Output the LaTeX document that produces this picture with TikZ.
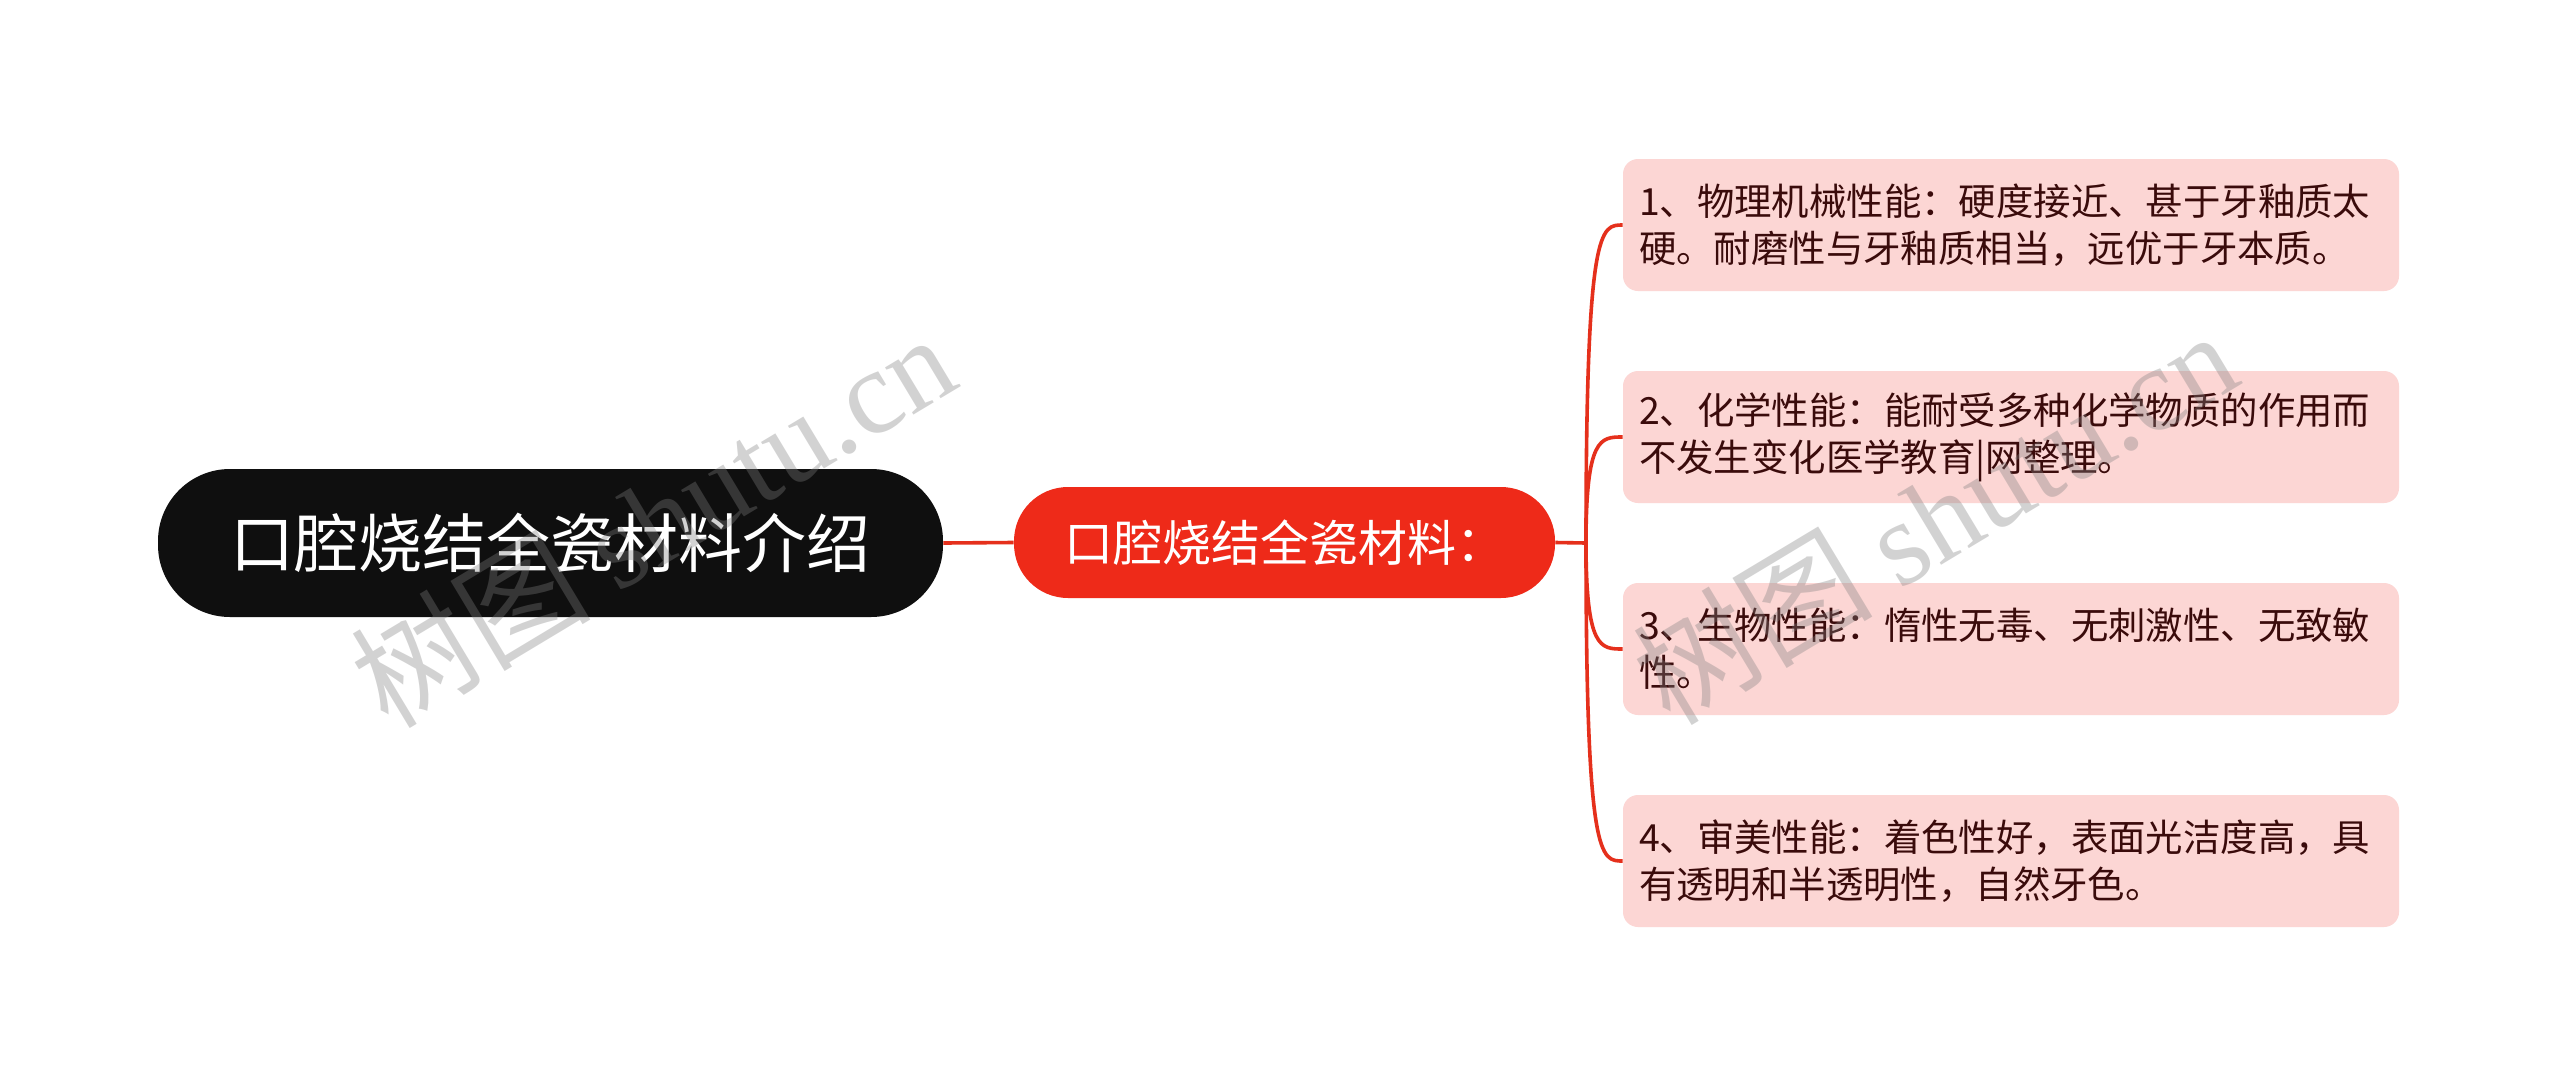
\documentclass[tikz,border=0pt]{standalone}
\usepackage{fontspec}
\setmainfont{Noto Sans CJK SC}
\newfontfamily\wmcjk{Noto Sans CJK SC}
\newfontfamily\wmlat{Liberation Serif}
\usetikzlibrary{calc}
\definecolor{rootbg}{HTML}{0F0F0F}
\definecolor{midbg}{HTML}{EE2A19}
\definecolor{leafbg}{HTML}{FCD6D4}
\definecolor{leaftx}{HTML}{3A0B0B}
\definecolor{linec}{HTML}{E5301C}
\definecolor{wm}{HTML}{808080}
\tikzset{
  rootbox/.style={fill=rootbg, text=white, rounded corners=36pt, minimum width=392.5pt, minimum height=74pt, inner sep=0pt, font=\fontsize{32pt}{38pt}\selectfont},
  midbox/.style={fill=midbg, text=white, rounded corners=27pt, minimum width=270.5pt, minimum height=55.5pt, inner sep=0pt, font=\fontsize{24.5pt}{29pt}\selectfont},
  leafbox/.style={fill=leafbg, text=leaftx, rounded corners=7.5pt, minimum width=388pt, minimum height=66pt, text width=372pt, inner xsep=8pt, inner ysep=0pt, align=left, font=\fontsize{18.7pt}{23.5pt}\selectfont},
  link/.style={draw=linec, line width=1.8pt},
  wmark/.style={text=wm, opacity=0.35, rotate=31, inner sep=0pt}
}
\begin{document}
\begin{tikzpicture}[x=0.5pt,y=-0.5pt]
\useasboundingbox (0,0) rectangle (2560,1087);
\fill[white] (0,0) rectangle (2560,1087);

\node[rootbox] (root) at (550.5,543) {口腔烧结全瓷材料介绍};
\node[midbox] (mid) at (1284.5,542.5) {口腔烧结全瓷材料：};

\node[leafbox] (l1) at (2011,225) {1、物理机械性能：硬度接近、甚于牙釉质太\\硬。耐磨性与牙釉质相当，远优于牙本质。};
\node[leafbox] (l2) at (2011,437) {2、化学性能：能耐受多种化学物质的作用而\\不发生变化医学教育|网整理。};
\node[leafbox] (l3) at (2011,649) {3、生物性能：惰性无毒、无刺激性、无致敏\\性。};
\node[leafbox] (l4) at (2011,861) {4、审美性能：着色性好，表面光洁度高，具\\有透明和半透明性，自然牙色。};

\coordinate (j) at (1586,543);
\draw[link] (root.east) -- (mid.west);
\draw[link] (mid.east) -- (j);
\foreach \k in {1,2,3,4}{
  \draw[link] (j) .. controls (j |- l\k.west) and ($(l\k.west)+(-22,0)$) .. (l\k.west);
}

\node[wmark] (wm1) at (652,519) {\fontsize{60pt}{64pt}\selectfont{\wmcjk 树图} {\wmlat shutu.cn}};
\node[wmark] (wm2) at (1934,516) {\fontsize{60pt}{64pt}\selectfont{\wmcjk 树图} {\wmlat shutu.cn}};
\end{tikzpicture}
\end{document}
